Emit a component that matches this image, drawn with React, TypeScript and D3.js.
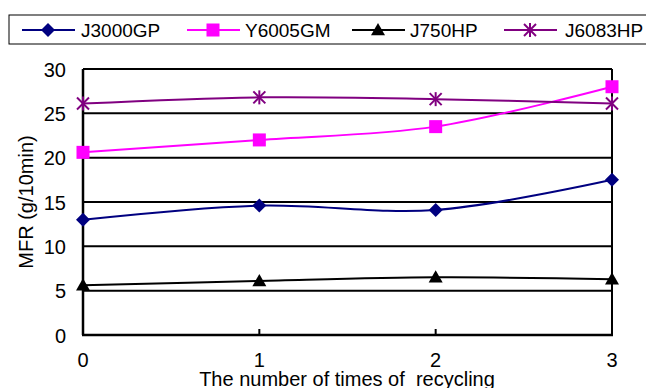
import React from "react";
import * as d3 from "d3";

const categories = [0, 1, 2, 3];
const seriesNames = ["J3000GP", "Y6005GM", "J750HP", "J6083HP"];
const j3000gp = [13.0, 14.6, 14.1, 17.5];
const y6005gm = [20.6, 22.0, 23.5, 28.0];
const j750hp = [5.6, 6.1, 6.5, 6.3];
const j6083hp = [26.1, 26.8, 26.6, 26.1];
const yTicks = [0, 5, 10, 15, 20, 25, 30];
const colors = ["#000080", "#FF00FF", "#000000", "#800080"];
const markers = ["diamond", "square", "triangle", "asterisk"];

const W = 646, H = 388;
const L = 83, R = 612, T = 69, B = 335;
const FONT = "Liberation Sans, Arial, sans-serif";

function Marker({ type, x, y, color }: { type: string; x: number; y: number; color: string }) {
  if (type === "diamond") {
    const s = 7;
    return <path d={`M${x},${y - s}L${x + s},${y}L${x},${y + s}L${x - s},${y}Z`} fill={color} />;
  }
  if (type === "square") {
    const s = 6.5;
    return <rect x={x - s} y={y - s} width={2 * s} height={2 * s} fill={color} />;
  }
  if (type === "triangle") {
    const s = 7;
    return <path d={`M${x},${y - s}L${x + s},${y + s * 0.75}L${x - s},${y + s * 0.75}Z`} fill={color} />;
  }
  const s = 6;
  return (
    <g stroke={color} strokeWidth={2}>
      <line x1={x - s} y1={y - s} x2={x + s} y2={y + s} />
      <line x1={x - s} y1={y + s} x2={x + s} y2={y - s} />
      <line x1={x} y1={y - s - 1} x2={x} y2={y + s + 1} />
    </g>
  );
}

export default function App() {
  const data = [j3000gp, y6005gm, j750hp, j6083hp];
  const x = d3.scaleLinear().domain([0, 3]).range([L, R]);
  const y = d3.scaleLinear().domain([0, 30]).range([B, T]);
  const line = d3
    .line<number>()
    .x((_, i) => x(categories[i]))
    .y((d) => y(d))
    .curve(d3.curveCatmullRom.alpha(0.5));

  const legendX = [22, 187, 352, 504];
  const legendTextX = [81, 245, 410, 565];
  return (
    <svg width={W} height={H} style={{ position: "absolute", left: 0, top: 0 }} fontFamily={FONT}>
      <rect x={0} y={0} width={W} height={H} fill="#fff" />
      {/* legend */}
      <rect x={9} y={15} width={660} height={29} fill="#fff" stroke="#000" strokeWidth={1} />
      {seriesNames.map((n, i) => (
        <g key={n}>
          <line x1={legendX[i]} y1={30} x2={legendX[i] + 53} y2={30} stroke={colors[i]} strokeWidth={2} />
          <Marker type={markers[i]} x={legendX[i] + 26} y={30} color={colors[i]} />
          <text x={legendTextX[i]} y={37} fontSize={19} fill="#000">{n}</text>
        </g>
      ))}
      {/* grid */}
      {yTicks.map((t) => (
        <line key={t} x1={L} x2={R} y1={y(t)} y2={y(t)} stroke="#000" strokeWidth={2} />
      ))}
      <line x1={L} x2={L} y1={T} y2={B} stroke="#000" strokeWidth={2.5} />
      <line x1={R} x2={R} y1={T} y2={B} stroke="#000" strokeWidth={2} />
      <line x1={L - 1} x2={R + 1} y1={B} y2={B} stroke="#000" strokeWidth={2.5} />
      {categories.map((c) => (
        <line key={c} x1={x(c)} x2={x(c)} y1={B} y2={B - 6} stroke="#000" strokeWidth={2} />
      ))}
      {yTicks.map((t) => (
        <text key={t} x={L - 17} y={y(t) + 7.5} fontSize={20} textAnchor="end" fill="#000">{t}</text>
      ))}
      {categories.map((c) => (
        <text key={c} x={x(c)} y={367} fontSize={20} textAnchor="middle" fill="#000">{c}</text>
      ))}
      <text x={347} y={386} fontSize={20} textAnchor="middle" fill="#000" style={{ whiteSpace: "pre" }}>
        {"The number of times of  recycling"}
      </text>
      <text transform={`translate(33,${(T + B) / 2}) rotate(-90)`} fontSize={20} textAnchor="middle" fill="#000">
        MFR (g/10min)
      </text>
      {/* series */}
      {data.map((d, i) => (
        <g key={i}>
          <path d={line(d) || ""} fill="none" stroke={colors[i]} strokeWidth={2} />
          {d.map((v, j) => (
            <Marker key={j} type={markers[i]} x={x(categories[j])} y={y(v)} color={colors[i]} />
          ))}
        </g>
      ))}
    </svg>
  );
}
